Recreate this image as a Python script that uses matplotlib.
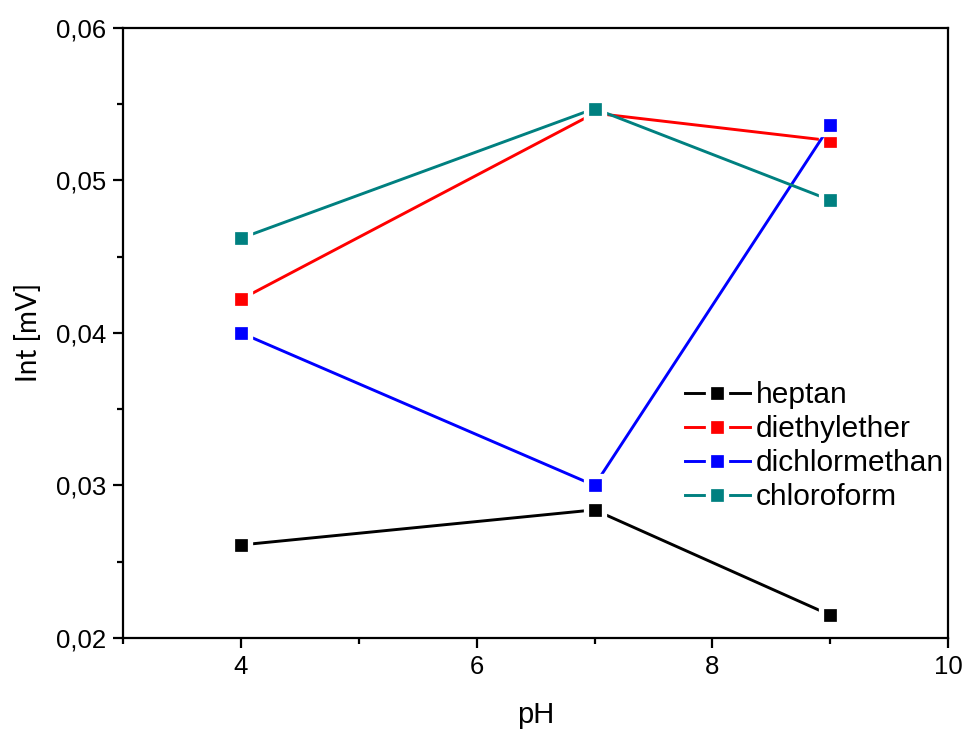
import matplotlib.pyplot as plt
from matplotlib.ticker import MultipleLocator, FuncFormatter

plt.rcParams["font.family"] = "Liberation Sans"

ph = [4, 7, 9]
heptan = [0.0261, 0.0284, 0.0215]
diethylether = [0.0422, 0.0544, 0.0526]
dichlormethan = [0.0400, 0.0300, 0.0536]
chloroform = [0.0462, 0.0547, 0.0487]

series = [
    ("heptan", heptan, "#000000"),
    ("diethylether", diethylether, "#ff0000"),
    ("dichlormethan", dichlormethan, "#0000ff"),
    ("chloroform", chloroform, "#008080"),
]

fig = plt.figure(figsize=(9.65, 7.3), dpi=100)
ax = fig.add_axes([0.1275, 0.126, 0.855, 0.836])

# white edge around the squares leaves the small gap between line and marker
for name, vals, col in series:
    ax.plot(ph, vals, color=col, lw=2.1, marker="s", ms=12.6, mfc=col,
            mec="white", mew=3.8, label=name)

ax.set_xlim(3, 10)
ax.set_ylim(0.02, 0.06)
ax.xaxis.set_major_locator(MultipleLocator(2))
ax.xaxis.set_minor_locator(MultipleLocator(1))
ax.yaxis.set_major_locator(MultipleLocator(0.01))
ax.yaxis.set_minor_locator(MultipleLocator(0.005))
ax.xaxis.set_major_formatter(FuncFormatter(lambda v, p: f"{v:g}" if v > 3 else ""))
ax.yaxis.set_major_formatter(FuncFormatter(lambda v, p: f"{v:.2f}".replace(".", ",")))

ax.tick_params(which="both", direction="out", width=1.6, labelsize=18.5,
               top=False, right=False)
ax.tick_params(which="major", length=7, pad=5)
ax.tick_params(which="minor", length=4)
for sp in ax.spines.values():
    sp.set_linewidth(1.6)

ax.set_xlabel("pH", fontsize=21, labelpad=16)
ax.set_ylabel("Int [mV]", fontsize=20, family="Lato", labelpad=10)

ax.legend(loc="upper left", bbox_to_anchor=(0.697, 0.494), bbox_transform=fig.transFigure,
          frameon=False, fontsize=21.5, handlelength=2.2, handletextpad=0.2,
          labelspacing=0.2, borderaxespad=0)

fig.savefig("out.png", dpi=100)
